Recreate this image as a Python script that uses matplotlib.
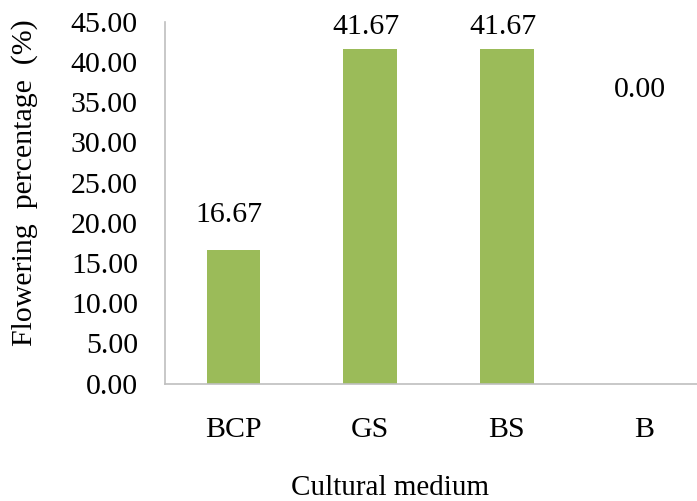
import matplotlib.pyplot as plt
import numpy as np

plt.rcParams['font.family'] = ['Liberation Serif', 'DejaVu Serif']

media = ["BCP", "GS", "BS", "B"]
flowering = [16.67, 41.67, 41.67, 0.00]
# where the value labels sit (height in %)
label_y = [21.0, 44.4, 44.4, 36.5]

FS = 21.5

fig = plt.figure(figsize=(6.97, 5.01), dpi=100)
ax = fig.add_axes([165 / 697, 1 - 383.5 / 501, (697 - 165) / 697, 361.5 / 501])

x = np.arange(len(media))
ax.bar(x, flowering, width=0.39, color="#9BBB59")

for i, v in enumerate(flowering):
    ax.text(x[i] - 0.03, label_y[i], f"{v:.2f}", ha="center", va="center",
            fontsize=FS, clip_on=False)

ax.set_xlim(-0.5, 3.39)
ax.set_ylim(0, 45)
ax.set_yticks(np.arange(0, 46, 5))
ax.yaxis.set_major_formatter(plt.FuncFormatter(lambda v, _: f"{v:.2f}"))
ax.set_xticks(x)
ax.set_xticklabels(media)
ax.tick_params(axis="both", length=0, labelsize=FS)
ax.tick_params(axis="y", pad=19.5)
ax.tick_params(axis="x", pad=24)

for side in ["top", "right"]:
    ax.spines[side].set_visible(False)
for side in ["left", "bottom"]:
    ax.spines[side].set_color("#BFBFBF")
    ax.spines[side].set_linewidth(1.2)

fig.text(390 / 697, 1 - 488 / 501, "Cultural medium", fontsize=21,
         ha="center", va="center")
fig.text(25 / 697, 1 - 183 / 501, "Flowering  percentage  (%)", fontsize=FS,
         ha="center", va="center", rotation=90)

fig.savefig("out.png", dpi=100)
